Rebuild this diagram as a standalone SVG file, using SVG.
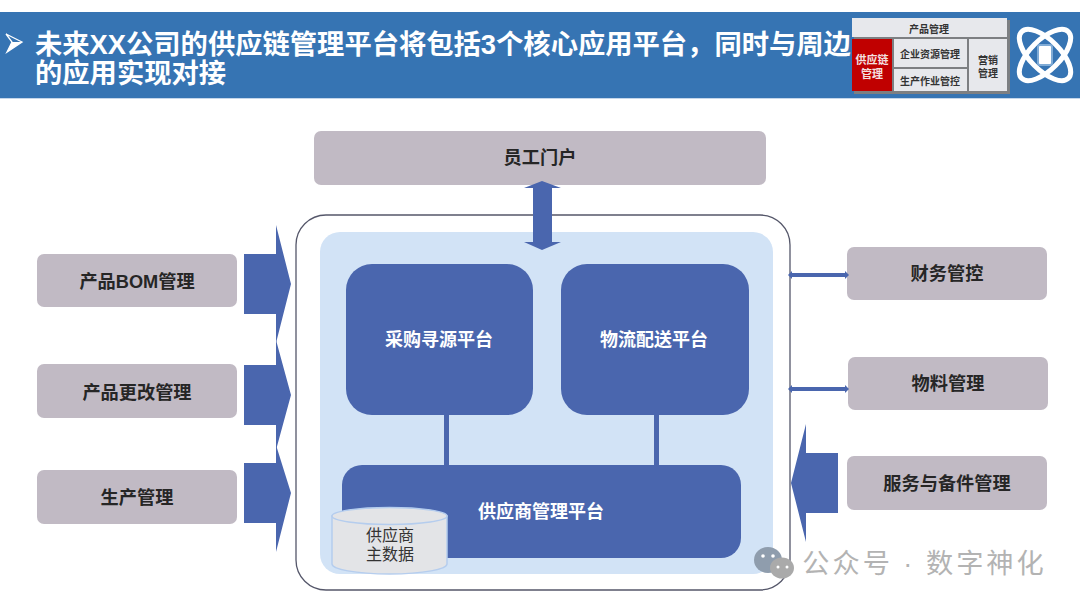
<svg xmlns="http://www.w3.org/2000/svg" width="1080" height="606" viewBox="0 0 1080 606">
<style>
text{font-family:"Liberation Sans","Noto Sans CJK SC",sans-serif;text-anchor:middle}
.side{fill:#c1bac4;rx:7px}
.plat{fill:#4a66ae}
.dk{font-size:18.200px;font-weight:700;fill:#262626}
.wh{font-size:18px;font-weight:700;fill:#fff}
.flow{fill:#4a66ae}
.mini{fill:#e7e8ec}
.mt{font-size:10px;font-weight:700;fill:#333}
.title{font-size:27.300px;font-weight:700;fill:#fff;text-anchor:start}
.cyl{fill:#e3e4e7;stroke:#b5cdee;stroke-width:1.500}
</style>
<rect width="1080" height="606" fill="#fff"/>
<g id="header">
<rect x="0" y="12" width="1080" height="86" fill="#3674b3"/>
<rect x="0" y="98" width="1080" height="1" fill="#c5d6ea"/>
<path d="M6 34L22 42L7 52L12 42Z" fill="none" stroke="#fff" stroke-width="1.300"/>
<path d="M12 42L22 42L7 52Z" fill="#fff"/>
<text class="title" x="35" y="54">未来XX公司的供应链管理平台将包括3个核心应用平台，同时与周边</text>
<text class="title" x="35" y="83">的应用实现对接</text>
</g>
<g id="mini-map">
<rect x="854" y="20" width="156" height="74" fill="#7d7f82"/>
<rect x="852" y="18" width="155" height="19" class="mini"/>
<text class="mt" x="929" y="33">产品管理</text>
<rect x="852" y="39" width="40" height="52" fill="#c00000"/>
<text class="mt" x="872" y="64" style="fill:#f4e0e0;font-size:11px">供应链</text>
<text class="mt" x="872" y="78" style="fill:#f4e0e0;font-size:11px">管理</text>
<rect x="894" y="39" width="73" height="28" class="mini"/>
<text class="mt" x="930" y="58">企业资源管理</text>
<rect x="894" y="69" width="73" height="22" class="mini"/>
<text class="mt" x="930" y="85">生产作业管控</text>
<rect x="969" y="39" width="38" height="52" class="mini"/>
<text class="mt" x="988" y="64">营销</text>
<text class="mt" x="988" y="77">管理</text>
</g>
<g id="logo" fill="none" stroke="#fff">
<ellipse cx="1045" cy="55" rx="33" ry="15" stroke-width="5" transform="rotate(45 1045 55)"/>
<ellipse cx="1045" cy="55" rx="33" ry="15" stroke-width="5" transform="rotate(-45 1045 55)"/>
<rect x="1038" y="45" width="14" height="20" rx="2" stroke="#7fabd6" stroke-width="2" fill="#fff"/>
</g>
<g id="container">
<rect x="296" y="215" width="494" height="375" rx="30" fill="#fff" stroke="#55576a" stroke-width="1.300"/>
<rect x="320" y="232" width="453" height="342" rx="20" fill="#d2e3f6"/>
</g>
<g id="portal"><rect class="side" x="314" y="131" width="452" height="54"/><text class="dk" x="540" y="164">员工门户</text></g>
<g id="bom"><rect class="side" x="37" y="254" width="200" height="53"/><text class="dk" x="137" y="288">产品BOM管理</text></g>
<g id="change"><rect class="side" x="37" y="364" width="200" height="54"/><text class="dk" x="137" y="399">产品更改管理</text></g>
<g id="production"><rect class="side" x="37" y="470" width="200" height="54"/><text class="dk" x="137" y="504">生产管理</text></g>
<g id="finance"><rect class="side" x="847" y="247" width="200" height="53"/><text class="dk" x="947" y="280">财务管控</text></g>
<g id="material"><rect class="side" x="848" y="357" width="200" height="53"/><text class="dk" x="948" y="390">物料管理</text></g>
<g id="service"><rect class="side" x="847" y="456" width="200" height="54"/><text class="dk" x="947" y="490">服务与备件管理</text></g>
<g id="sourcing"><rect class="plat" x="346" y="264" width="187" height="151" rx="26"/><text class="wh" x="439" y="346">采购寻源平台</text></g>
<g id="logistics"><rect class="plat" x="561" y="264" width="188" height="151" rx="26"/><text class="wh" x="654" y="346">物流配送平台</text></g>
<g id="supplier"><rect class="plat" x="342" y="465" width="399" height="93" rx="20"/><text class="wh" x="541" y="518">供应商管理平台</text></g>
<g id="connectors">
<path class="flow" d="M542 181L561 188H552V242H561L542 250L524 242H533V188H524Z"/>
<path class="flow" d="M244 254H276V225L291 284L276 343V314H244Z"/>
<path class="flow" d="M244 365H276V340L291 395L276 450V425H244Z"/>
<path class="flow" d="M244 463H276V445L291 493L276 552V523H244Z"/>
<path class="flow" d="M838 453H806V424L791 483L806 542V513H838Z"/>
<path class="flow" d="M788 275L792 271V273H845V271L849 275L845 279V277H792V279Z"/>
<path class="flow" d="M788 389L792 385V387H845V385L849 389L845 393V391H792V393Z"/>
<rect class="flow" x="444" y="415" width="5" height="50"/>
<rect class="flow" x="654" y="415" width="5" height="50"/>
</g>
<g id="master-data">
<path class="cyl" d="M332 516V564C332 569 355 574 389.500 574C424 574 447 569 447 564V516Z"/>
<ellipse class="cyl" cx="389.500" cy="516" rx="57.500" ry="8.500"/>
<text x="390" y="541" font-size="16" fill="#333">供应商</text>
<text x="390" y="560" font-size="16" fill="#333">主数据</text>
</g>
<g id="watermark">
<ellipse cx="768" cy="560" rx="14" ry="13" fill="#8f9dad"/>
<ellipse cx="782" cy="568" rx="12" ry="10.500" fill="#aaaaaa"/>
<circle cx="763" cy="556" r="1.800" fill="#fff"/><circle cx="773" cy="556" r="1.800" fill="#fff"/>
<circle cx="778" cy="567" r="1.500" fill="#fff"/><circle cx="787" cy="567" r="1.500" fill="#fff"/>
<text x="924.500" y="573" font-size="27.200" letter-spacing="3" fill="#b3b3b3">公众号 · 数字神化</text>
</g>
</svg>
